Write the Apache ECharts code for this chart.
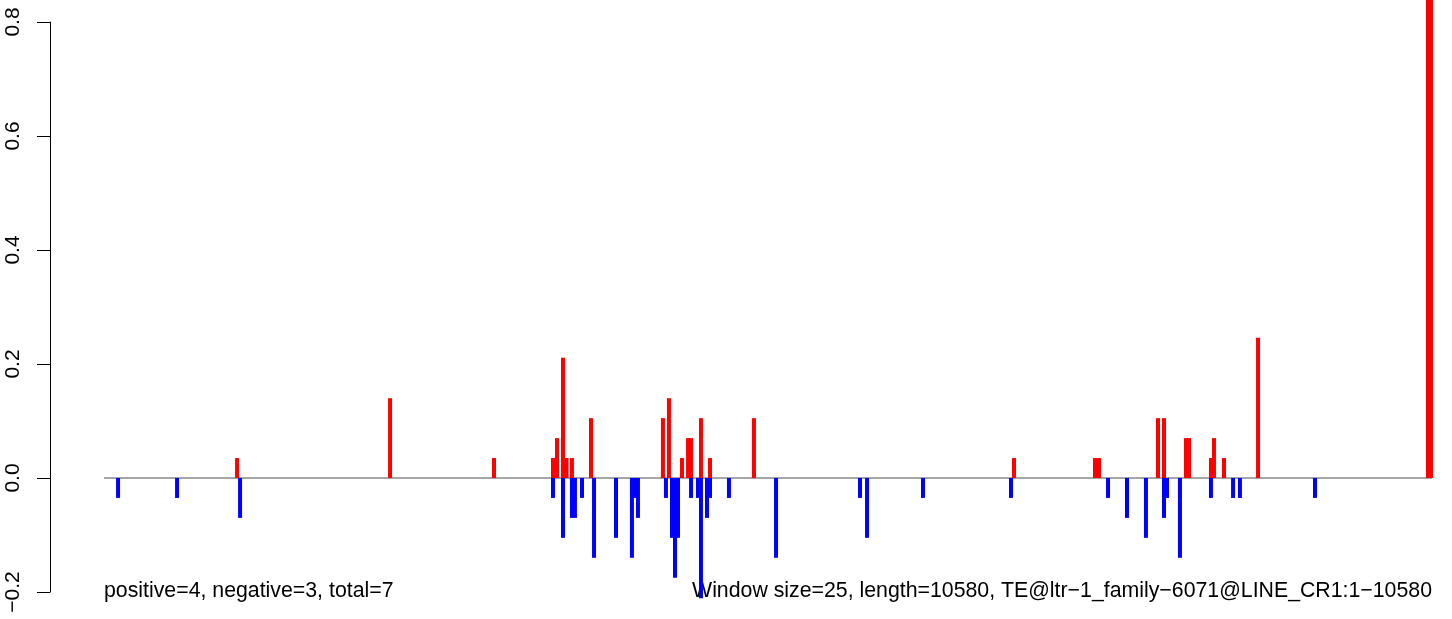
<!DOCTYPE html>
<html><head><meta charset="utf-8">
<script src="https://cdn.jsdelivr.net/npm/echarts@6/dist/echarts.min.js"></script>
<style>html,body{margin:0;padding:0;background:#fff}#c{width:1452px;height:619px}</style>
</head><body><div id="c"></div>
<script>
// positions in bp (window midpoints)
const posPos = [1060, 2279, 3107, 3577, 3609, 3657, 3685, 3728, 3880, 4453, 4501, 4605, 4653, 4677, 4756, 4828, 5178, 7250, 7895, 7927, 8397, 8445, 8620, 8644, 8819, 8843, 8923, 9194, 10548, 10572];
const posVal = [0.035, 0.14, 0.035, 0.035, 0.07, 0.211, 0.035, 0.035, 0.105, 0.105, 0.14, 0.035, 0.07, 0.07, 0.105, 0.035, 0.105, 0.035, 0.035, 0.035, 0.105, 0.105, 0.07, 0.07, 0.035, 0.07, 0.035, 0.246, 0.9, 0.9];
const negPos = [112, 582, 1084, 3577, 3657, 3728, 3752, 3808, 3904, 4079, 4206, 4230, 4254, 4477, 4525, 4549, 4573, 4677, 4732, 4756, 4804, 4828, 4979, 5354, 6023, 6079, 6525, 7226, 7999, 8150, 8301, 8445, 8469, 8572, 8819, 8995, 9050, 9648];
const negVal = [-0.035, -0.035, -0.07, -0.035, -0.105, -0.07, -0.07, -0.035, -0.14, -0.105, -0.14, -0.035, -0.07, -0.035, -0.105, -0.175, -0.105, -0.035, -0.035, -0.211, -0.07, -0.035, -0.035, -0.14, -0.035, -0.105, -0.035, -0.035, -0.035, -0.07, -0.105, -0.07, -0.035, -0.14, -0.035, -0.035, -0.035, -0.035];
const seqLength = 10580;
const yTicks = [-0.2, 0.0, 0.2, 0.4, 0.6, 0.8];
const leftNote = 'positive=4, negative=3, total=7';
const rightNote = 'Window size=25, length=10580, TE@ltr\u22121_family\u22126071@LINE_CR1:1\u221210580';

function barRender(color) {
  return function (params, api) {
    const x = api.value(0), v = api.value(1);
    const p0 = api.coord([x, 0]);
    const p1 = api.coord([x, v]);
    const w = 4;
    return {
      type: 'rect',
      shape: { x: p0[0] - w / 2, y: Math.min(p0[1], p1[1]), width: w, height: Math.abs(p1[1] - p0[1]) },
      style: { fill: color }
    };
  };
}

const FONT = '"Liberation Sans", Arial, Helvetica, sans-serif';
const chart = echarts.init(document.getElementById('c'), null, { renderer: 'canvas' });
chart.setOption({
  animation: false,
  backgroundColor: '#ffffff',
  grid: { left: 50, right: 20, top: 22, bottom: 27, containLabel: false },
  xAxis: { type: 'value', min: -430.2, max: seqLength, show: false },
  yAxis: {
    type: 'value', min: yTicks[0], max: yTicks[yTicks.length - 1], interval: 0.2,
    axisLine: { show: true, onZero: false, lineStyle: { color: '#000', width: 1 } },
    axisTick: { show: true, length: 13, lineStyle: { color: '#000', width: 1 } },
    splitLine: { show: false },
    axisLabel: {
      rotate: 90, margin: 26, color: '#000', fontSize: 21, fontFamily: FONT,
      formatter: function (v) { const s = v.toFixed(1); return s.replace('-', '\u2212'); }
    }
  },
  series: [
    { type: 'line', data: [[0, 0], [seqLength, 0]], symbol: 'none', lineStyle: { color: '#a6a6a6', width: 2 }, silent: true, z: 1 },
    { type: 'custom', data: negPos.map((p, i) => [p, negVal[i]]), renderItem: barRender('#0000ff'), clip: false, z: 2 },
    { type: 'custom', data: posPos.map((p, i) => [p, posVal[i]]), renderItem: barRender('#ff0000'), clip: false, z: 3 }
  ],
  graphic: [
    { type: 'text', x: 104, y: 591, style: { text: leftNote, fill: '#000', font: '21.3px ' + FONT, textAlign: 'left', textVerticalAlign: 'middle' } },
    { type: 'text', x: 1432, y: 591, style: { text: rightNote, fill: '#000', font: '21.3px ' + FONT, textAlign: 'right', textVerticalAlign: 'middle' } }
  ]
});
</script></body></html>
